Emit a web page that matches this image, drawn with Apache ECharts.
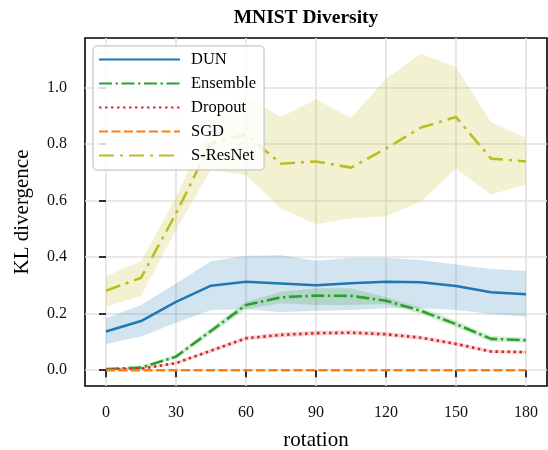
<!DOCTYPE html>
<html>
<head>
<meta charset="utf-8">
<script src="https://cdn.jsdelivr.net/npm/echarts@6/dist/echarts.min.js"></script>
<style>
  html, body { margin: 0; padding: 0; background: #fff; }
  #chart { width: 548px; height: 450px; }
</style>
</head>
<body>
<div id="chart"></div>
<script>
// Rotation angles (degrees) at which diversity was measured
const rotation = [0, 15, 30, 45, 60, 75, 90, 105, 120, 135, 150, 165, 180];

// KL divergence: mean and spread band for each method
const dunMean  = [0.137, 0.174, 0.242, 0.299, 0.313, 0.307, 0.301, 0.308, 0.313, 0.311, 0.298, 0.276, 0.269];
const dunLow   = [0.093, 0.119, 0.168, 0.213, 0.216, 0.205, 0.210, 0.213, 0.219, 0.219, 0.213, 0.199, 0.189];
const dunHigh  = [0.184, 0.231, 0.307, 0.386, 0.405, 0.407, 0.387, 0.398, 0.398, 0.390, 0.374, 0.358, 0.351];

const ensMean  = [0.004, 0.009, 0.048, 0.139, 0.231, 0.258, 0.264, 0.263, 0.246, 0.210, 0.163, 0.111, 0.106];
const ensLow   = [0.001, 0.005, 0.041, 0.128, 0.216, 0.237, 0.231, 0.231, 0.234, 0.199, 0.152, 0.101, 0.097];
const ensHigh  = [0.008, 0.014, 0.056, 0.150, 0.242, 0.278, 0.290, 0.290, 0.258, 0.222, 0.175, 0.121, 0.115];

const dropMean = [0.002, 0.005, 0.025, 0.069, 0.113, 0.125, 0.131, 0.133, 0.127, 0.115, 0.093, 0.066, 0.064];
const dropLow  = [0.000, 0.002, 0.020, 0.062, 0.106, 0.117, 0.123, 0.125, 0.119, 0.108, 0.086, 0.060, 0.058];
const dropHigh = [0.004, 0.008, 0.030, 0.076, 0.120, 0.133, 0.139, 0.141, 0.135, 0.122, 0.100, 0.072, 0.070];

const sgdMean  = [0, 0, 0, 0, 0, 0, 0, 0, 0, 0, 0, 0, 0];

const srMean   = [0.281, 0.327, 0.555, 0.805, 0.834, 0.731, 0.739, 0.717, 0.785, 0.859, 0.896, 0.749, 0.739];
const srLow    = [0.225, 0.263, 0.496, 0.710, 0.690, 0.572, 0.517, 0.537, 0.545, 0.596, 0.714, 0.622, 0.657];
const srHigh   = [0.333, 0.386, 0.613, 0.880, 0.969, 0.896, 0.959, 0.894, 1.032, 1.120, 1.073, 0.878, 0.823];

// Axis tick values
const xTicks = [0, 30, 60, 90, 120, 150, 180];
const yTicks = [0.0, 0.2, 0.4, 0.6, 0.8, 1.0];

const FONT = 'Liberation Serif';

const pairs = (ys) => ys.map((y, i) => [rotation[i], y]);

// Shaded band between low and high, drawn as one polygon through the axis scales
function band(key, low, high, color) {
  return {
    name: key + '-band', type: 'custom', silent: true, z: 1,
    data: rotation.map((x, i) => [x, low[i], high[i]]),
    encode: { x: 0, y: [1, 2] },
    renderItem: function (params, api) {
      if (params.dataIndex !== 0) return null;
      const upper = rotation.map((x, i) => api.coord([x, high[i]]));
      const lower = rotation.map((x, i) => api.coord([x, low[i]])).reverse();
      return {
        type: 'polygon',
        shape: { points: upper.concat(lower) },
        style: { fill: color, opacity: 0.2 }
      };
    }
  };
}

function meanLine(name, ys, color, type, width) {
  return {
    name: name, type: 'line', data: pairs(ys),
    symbol: 'none', z: 3,
    lineStyle: { color: color, width: width, type: type, cap: 'butt' },
    itemStyle: { color: color }
  };
}

const C = { dun: '#1f77b4', ens: '#2ca02c', drop: '#d62728', sgd: '#ff7f0e', sr: '#bcbd22' };

const series = [
  band('dun', dunLow, dunHigh, C.dun),
  band('ens', ensLow, ensHigh, C.ens),
  band('drop', dropLow, dropHigh, C.drop),
  band('sr', srLow, srHigh, C.sr),
  meanLine('DUN', dunMean, C.dun, 'solid', 2.5),
  meanLine('Ensemble', ensMean, C.ens, [13, 3.5, 2.5, 3.5], 2.6),
  meanLine('Dropout', dropMean, C.drop, [2.5, 3.5], 2.6),
  meanLine('SGD', sgdMean, C.sgd, [9, 3.5], 2.5),
  meanLine('S-ResNet', srMean, C.sr, [15, 6, 3, 6], 2.6)
];

const chart = echarts.init(document.getElementById('chart'), null, { renderer: 'canvas' });

chart.setOption({
  animation: false,
  backgroundColor: '#ffffff',
  title: {
    text: 'MNIST Diversity',
    left: 301, top: 3, textAlign: 'center',
    textStyle: { fontFamily: FONT, fontWeight: 'bold', fontSize: 19.5, color: '#000' }
  },
  grid: {
    left: 85, right: 1, top: 38, bottom: 64,
    containLabel: false, outerBoundsMode: 'none',
    show: true, borderColor: '#000', borderWidth: 1.6, backgroundColor: 'transparent'
  },
  legend: {
    data: ['DUN', 'Ensemble', 'Dropout', 'SGD', 'S-ResNet'],
    orient: 'vertical',
    left: 93, top: 46,
    itemWidth: 81, itemHeight: 14, itemGap: 7,
    padding: [5, 8, 6, 5],
    backgroundColor: 'rgba(255,255,255,0.82)',
    borderColor: '#cfcfcf', borderWidth: 1.5, borderRadius: 4,
    itemStyle: { opacity: 0 },
    textStyle: { fontFamily: FONT, fontSize: 16.5, color: '#000', padding: [0, 0, 0, 6] }
  },
  xAxis: {
    type: 'value', min: -9, max: 189,
    name: 'rotation', nameLocation: 'middle', nameGap: 44,
    nameTextStyle: { fontFamily: FONT, fontSize: 21, color: '#000' },
    axisLine: { show: false },
    axisTick: { show: true, inside: false, length: 7, customValues: xTicks,
                lineStyle: { color: '#000', width: 1.6 } },
    axisLabel: { customValues: xTicks, margin: 19, fontFamily: FONT, fontSize: 16, color: '#111' },
    splitLine: { show: true, lineStyle: { color: '#e2e2e2', width: 1.6 } }
  },
  yAxis: {
    type: 'value', min: -0.056, max: 1.176,
    name: 'KL divergence', nameLocation: 'middle', nameGap: 52, nameRotate: 90,
    nameTextStyle: { fontFamily: FONT, fontSize: 21, color: '#000' },
    axisLine: { show: false },
    axisTick: { show: true, inside: false, length: 7, customValues: yTicks,
                lineStyle: { color: '#000', width: 1.6 } },
    axisLabel: { customValues: yTicks, margin: 18, fontFamily: FONT, fontSize: 16, color: '#111',
                 formatter: (v) => v.toFixed(1) },
    splitLine: { show: true, lineStyle: { color: '#e2e2e2', width: 1.6 } }
  },
  series: series
});
</script>
</body>
</html>
